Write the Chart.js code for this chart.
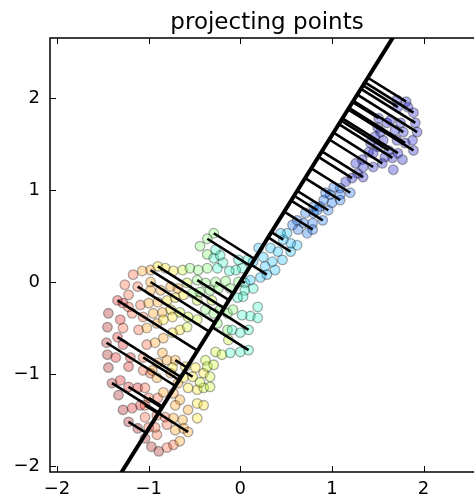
<!DOCTYPE html>
<html>
<head>
<meta charset="utf-8">
<script src="https://cdn.jsdelivr.net/npm/chart.js@4/dist/chart.umd.min.js"></script>
<style>
  html, body { margin: 0; padding: 0; background: #fff; overflow: hidden; }
  #c { display: block; }
</style>
</head>
<body>
<canvas id="c" width="500" height="500"></canvas>
<script>
// tick values
const xTicks = [-2, -1, 0, 1, 2];
const yTicks = [-2, -1, 0, 1, 2];

// direction of the projection axis (unit vector)
const axisDir = [0.531, 0.847];

// points, grouped by colour band
const violet = [[1.81,1.96],[1.71,1.98],[1.83,1.90],[1.72,1.90],[1.89,1.84],[1.91,1.73],[1.93,1.63],[1.88,1.54],[1.89,1.43],[1.78,1.63],[1.69,1.65],[1.71,1.54],[1.80,1.51],[1.77,1.33],[1.67,1.22],[1.66,1.35],[1.58,1.36],[1.55,1.29],[1.62,1.43],[1.56,1.54],[1.53,1.63],[1.60,1.73],[1.50,1.68],[1.51,1.78],[1.47,1.58],[1.42,1.51],[1.50,1.47],[1.45,1.40],[1.40,1.41],[1.33,1.33],[1.26,1.29],[1.34,1.25],[1.45,1.25],[1.28,1.18],[1.34,1.14],[1.22,1.13],[1.15,1.09],[1.64,1.76],[1.75,1.73],[1.72,1.40]];
const blue = [[1.09,1.02],[1.02,1.03],[0.98,0.95],[1.09,0.95],[1.20,0.97],[1.00,0.86],[0.91,0.89],[0.87,0.82],[0.80,0.82],[0.90,0.67],[0.80,0.75],[0.71,0.75],[0.79,0.64],[0.69,0.64],[0.73,0.53],[0.93,0.97],[0.96,0.78],[0.63,0.57],[0.57,0.62],[0.62,0.67],[1.09,0.89],[0.84,0.78],[0.79,0.57]];
const cyan = [[0.62,0.40],[0.55,0.42],[0.47,0.46],[0.51,0.53],[0.44,0.53],[0.55,0.33],[0.41,0.33],[0.46,0.24],[0.33,0.37],[0.35,0.22],[0.38,0.13],[0.27,0.17],[0.25,0.27],[0.20,0.37],[0.14,0.22],[0.22,0.05],[0.29,0.08],[0.11,0.02]];
const aqua = [[0.08,0.24],[0.02,0.15],[-0.02,0.24],[-0.05,0.13],[-0.12,0.12],[-0.19,0.21],[-0.25,0.15],[-0.29,0.26],[-0.22,0.29],[-0.27,0.35],[0.05,-0.01],[0.14,-0.07],[0.05,-0.09],[0.03,-0.16],[-0.03,-0.17],[0.19,-0.27],[0.11,-0.37],[0.19,-0.39],[0.02,-0.36],[0.09,-0.52],[0.09,-0.74],[0.00,-0.55],[0.00,-0.76],[-0.09,-0.52],[-0.11,-0.77]];
const green = [[-0.29,0.53],[-0.36,0.47],[-0.44,0.39],[-0.36,0.30],[-0.55,0.15],[-0.46,0.13],[-0.36,0.15],[-0.47,0.02],[-0.38,-0.01],[-0.27,0.00],[-0.16,0.01],[-0.02,0.00],[-0.24,-0.07],[-0.11,-0.07],[-0.33,-0.09],[-0.44,-0.11],[-0.52,-0.12],[-0.38,-0.30],[-0.29,-0.34],[-0.22,-0.30],[-0.14,-0.34],[-0.08,-0.30],[-0.25,-0.45],[-0.14,-0.52]];
const yellowGreen = [[-0.63,0.13],[-0.58,-0.01],[-0.57,-0.38],[-0.47,-0.41],[-0.66,-0.33],[-0.58,-0.49],[-0.38,-0.85],[-0.36,-0.92],[-0.27,-0.76],[-0.20,-0.79],[-0.13,-0.63],[-0.33,-1.03],[-0.40,-1.15],[-0.33,-1.14],[-0.44,-1.09],[-0.47,-0.20],[-0.31,-0.20],[-0.29,-0.90]];
const yellow = [[-0.90,0.17],[-0.82,0.15],[-0.73,0.12],[-0.80,-0.20],[-0.71,-0.17],[-0.62,-0.14],[-0.76,-0.30],[-0.74,-0.38],[-0.84,-0.41],[-0.66,-0.52],[-0.74,-0.55],[-0.60,-0.92],[-0.74,-0.93],[-0.52,-1.03],[-0.49,-0.93],[-0.40,-0.99],[-0.47,-1.17],[-0.57,-1.15],[-0.62,-1.04],[-0.47,-1.32],[-0.40,-1.34],[-0.47,-1.48]];
const orange = [[-0.98,0.13],[-1.07,0.12],[-1.00,-0.23],[-0.90,-0.22],[-0.95,-0.34],[-0.85,-0.33],[-0.98,-0.09],[-0.87,-0.09],[-0.76,-0.05],[-0.68,-0.07],[-1.02,-0.50],[-0.91,-0.45],[-0.93,-0.66],[-0.84,-0.61],[-0.85,-0.77],[-0.80,-0.85],[-0.90,-0.88],[-0.96,-0.96],[-0.91,-1.04],[-0.76,-0.99],[-0.84,-1.20],[-0.73,-1.21],[-0.68,-1.10],[-0.66,-1.28],[-0.57,-1.39],[-0.63,-1.50],[-0.71,-1.34],[-0.57,-1.63],[-0.62,-1.59],[-0.71,-1.61],[-0.66,-1.73],[-0.73,-1.48],[-0.98,0.00],[-0.71,-0.85]];
const salmon = [[-1.17,0.08],[-1.26,-0.03],[-1.12,-0.05],[-1.22,-0.14],[-1.09,-0.25],[-1.18,-0.34],[-1.11,-0.52],[-1.22,-0.27],[-1.28,-0.50],[-1.06,-0.38],[-1.06,-0.82],[-1.06,-0.96],[-0.98,-0.99],[-1.04,-1.15],[-1.00,-1.26],[-0.90,-1.26],[-0.91,-1.45],[-0.82,-1.47],[-0.80,-1.55],[-0.91,-1.66],[-0.80,-1.80],[-0.73,-1.77],[-0.93,-1.58],[-1.04,-1.47],[-1.00,-1.58],[-1.04,-1.34],[-1.02,-0.68]];
const red = [[-1.34,-0.20],[-1.28,-0.23],[-1.31,-0.41],[-1.34,-0.60],[-1.28,-0.68],[-1.36,-0.82],[-1.20,-0.82],[-1.22,-0.92],[-1.31,-1.07],[-1.22,-1.14],[-1.12,-1.15],[-1.18,-1.37],[-1.09,-1.34]];
const darkRed = [[-1.44,-0.34],[-1.45,-0.49],[-1.46,-0.66],[-1.45,-0.79],[-1.44,-0.93],[-1.40,-1.10],[-1.33,-1.23],[-1.28,-1.39],[-1.22,-1.52],[-1.12,-1.59],[-1.04,-1.70],[-0.97,-1.79],[-0.89,-1.84]];

// points whose projection onto the axis is drawn
const projected = [[1.81,1.96],[1.72,1.90],[1.89,1.84],[1.91,1.73],[1.93,1.63],[1.78,1.63],[1.50,1.68],[1.51,1.78],[1.89,1.43],[1.80,1.51],[1.72,1.40],[1.66,1.35],[1.62,1.43],[1.55,1.29],[1.45,1.25],[1.34,1.14],[1.22,1.13],[1.20,0.97],[1.09,0.89],[0.96,0.78],[0.84,0.78],[0.90,0.67],[0.79,0.57],
  [0.55,0.33],[0.47,0.46],[0.29,0.08],[0.05,-0.01],[0.09,-0.52],[0.09,-0.74],
  [-0.29,0.53],[-0.36,0.47],[-0.47,0.02],[-0.27,0.00],[-0.90,0.17],[-0.98,0.13],[-0.98,0.00],[-1.12,-0.05],[-1.34,-0.20],[-1.46,-0.66],[-1.34,-0.60],[-1.40,-1.10],[-1.22,-1.14],[-1.22,-1.52],[-1.04,-1.34],[-1.06,-0.82],[-1.00,-1.26],[-0.71,-0.85],
  [-0.52,-1.03],[-0.57,-1.63]];

const groups = [
  [violet, 'rgba(0,0,200,0.3)'],
  [blue, 'rgba(0,100,245,0.3)'],
  [cyan, 'rgba(0,190,255,0.3)'],
  [aqua, 'rgba(40,255,200,0.3)'],
  [green, 'rgba(120,255,100,0.3)'],
  [yellowGreen, 'rgba(200,255,20,0.3)'],
  [yellow, 'rgba(255,230,0,0.3)'],
  [orange, 'rgba(255,150,0,0.3)'],
  [salmon, 'rgba(255,80,30,0.3)'],
  [red, 'rgba(220,0,0,0.3)'],
  [darkRed, 'rgba(160,0,0,0.3)']
];

const toXY = p => ({ x: p[0], y: p[1] });
const foot = p => {
  const t = p[0] * axisDir[0] + p[1] * axisDir[1];
  return { x: t * axisDir[0], y: t * axisDir[1] };
};

const datasets = [];

// main axis line (clipped to the plot area)
datasets.push({
  data: [-4, 4].map(t => ({ x: t * axisDir[0], y: t * axisDir[1] })),
  showLine: true, borderColor: '#000', borderWidth: 4, pointRadius: 0, order: 0
});

// projection segments
projected.forEach(p => {
  datasets.push({
    data: [toXY(p), foot(p)],
    showLine: true, borderColor: '#000', borderWidth: 2.6, pointRadius: 0, order: 1
  });
});

// scatter points
groups.forEach(([pts, col]) => {
  datasets.push({
    data: pts.map(toXY),
    backgroundColor: col,
    borderColor: 'rgba(0,0,0,0.32)',
    borderWidth: 1.3,
    pointRadius: 4.8,
    order: 2
  });
});

const minus = v => (v < 0 ? '\u2212' + Math.abs(v) : String(v));
const tickFont = { family: 'DejaVu Sans', size: 18 };

// matplotlib-like frame: spines, inward ticks, title
const frame = {
  id: 'frame',
  afterDraw(chart) {
    const { ctx, chartArea: a, scales } = chart;
    ctx.save();
    ctx.strokeStyle = '#000';
    ctx.lineWidth = 1;
    const L = 6;
    xTicks.forEach(v => {
      const px = Math.round(scales.x.getPixelForValue(v)) + 0.5;
      ctx.beginPath();
      ctx.moveTo(px, a.bottom); ctx.lineTo(px, a.bottom - L);
      ctx.moveTo(px, a.top); ctx.lineTo(px, a.top + L);
      ctx.stroke();
    });
    yTicks.forEach(v => {
      const py = Math.round(scales.y.getPixelForValue(v)) + 0.5;
      ctx.beginPath();
      ctx.moveTo(a.left, py); ctx.lineTo(a.left + L, py);
      ctx.moveTo(a.right, py); ctx.lineTo(a.right - L, py);
      ctx.stroke();
    });
    ctx.lineWidth = 1.5;
    ctx.strokeRect(a.left, a.top, a.right - a.left, a.bottom - a.top);
    ctx.fillStyle = '#000';
    ctx.font = '23px "DejaVu Sans"';
    ctx.textAlign = 'center';
    ctx.textBaseline = 'alphabetic';
    ctx.fillText('projecting points', (a.left + a.right) / 2, 29);
    ctx.restore();
  }
};

new Chart(document.getElementById('c'), {
  type: 'scatter',
  data: { datasets },
  options: {
    responsive: false,
    animation: false,
    layout: { padding: { top: 38, right: 16, left: 0, bottom: 0 } },
    plugins: { legend: { display: false }, tooltip: { enabled: false } },
    scales: {
      x: {
        type: 'linear', min: -2.077, max: 2.66,
        grid: { display: false, drawTicks: false },
        border: { display: false },
        ticks: { color: '#000', font: tickFont, padding: 7, callback: v => minus(v) },
        afterBuildTicks: s => { s.ticks = xTicks.map(v => ({ value: v })); },
        afterFit: s => { s.height = 28; }
      },
      y: {
        type: 'linear', min: -2.065, max: 2.652,
        grid: { display: false, drawTicks: false },
        border: { display: false },
        ticks: { color: '#000', font: tickFont, padding: 10, callback: v => minus(v) },
        afterBuildTicks: s => { s.ticks = yTicks.map(v => ({ value: v })); },
        afterFit: s => { s.width = 50; }
      }
    }
  },
  plugins: [frame]
});
</script>
</body>
</html>
